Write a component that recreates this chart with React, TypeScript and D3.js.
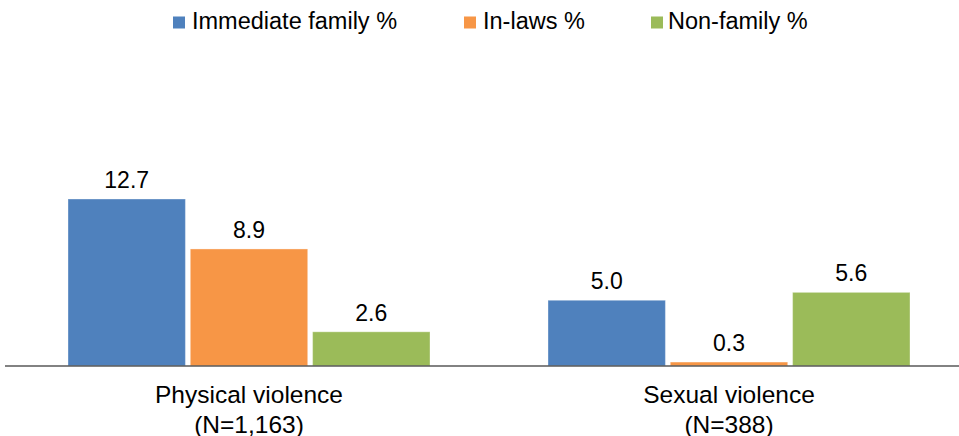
import React from "react";
import * as d3 from "d3";

const categories = ["Physical violence", "Sexual violence"];
const categorySub = ["(N=1,163)", "(N=388)"];
const series = ["Immediate family %", "In-laws %", "Non-family %"];
const colors = ["#4F81BD", "#F79646", "#9BBB59"];
const immediateFamily = [12.7, 5.0];
const inLaws = [8.9, 0.3];
const nonFamily = [2.6, 5.6];
const seriesValues = [immediateFamily, inLaws, nonFamily];

const W = 959;
const H = 436;
const baseY = 366;
const FONT = "'Liberation Sans', Arial, sans-serif";

export default function App() {
  const x0 = d3.scaleBand<string>().domain(categories).range([9, 969]);
  const groupW = 362;
  const x1 = d3
    .scaleBand<string>()
    .domain(series)
    .range([x0.bandwidth() / 2 - groupW / 2, x0.bandwidth() / 2 + groupW / 2])
    .paddingInner(0.04);
  const y = d3.scaleLinear().domain([0, 15]).range([baseY, baseY - 15 * 13.15]);

  const legendX = [173, 464, 651];
  const legendTextX = [192, 483, 668];

  return (
    <svg width={W} height={H} style={{ position: "absolute", left: 0, top: 0, background: "#fff" }}>
      {series.map((s, i) => (
        <g key={s}>
          <rect x={legendX[i]} y={16.5} width={12} height={12} fill={colors[i]} />
          <text x={legendTextX[i]} y={28.5} fontFamily={FONT} fontSize={23.5} fill="#000">
            {s}
          </text>
        </g>
      ))}
      {categories.map((c, ci) => (
        <g key={c} transform={`translate(${x0(c)},0)`}>
          {series.map((s, si) => {
            const v = seriesValues[si][ci];
            const bx = x1(s)!;
            const bw = x1.bandwidth();
            return (
              <g key={s}>
                <rect
                  x={bx}
                  y={y(v)}
                  width={bw}
                  height={baseY - y(v)}
                  fill={colors[si]}
                  stroke="#ffffff"
                  strokeOpacity={0.35}
                  strokeWidth={1}
                />
                <text
                  x={bx + bw / 2}
                  y={y(v) - 11}
                  textAnchor="middle"
                  fontFamily={FONT}
                  fontSize={23}
                  fill="#000"
                >
                  {d3.format(".1f")(v)}
                </text>
              </g>
            );
          })}
          <text x={x0.bandwidth() / 2} y={403} textAnchor="middle" fontFamily={FONT} fontSize={24.5} fill="#000">
            {c}
          </text>
          <text x={x0.bandwidth() / 2} y={432.5} textAnchor="middle" fontFamily={FONT} fontSize={24.5} fill="#000">
            {categorySub[ci]}
          </text>
        </g>
      ))}
      <line x1={5} x2={959} y1={baseY} y2={baseY} stroke="#595959" strokeWidth={1.5} />
    </svg>
  );
}
